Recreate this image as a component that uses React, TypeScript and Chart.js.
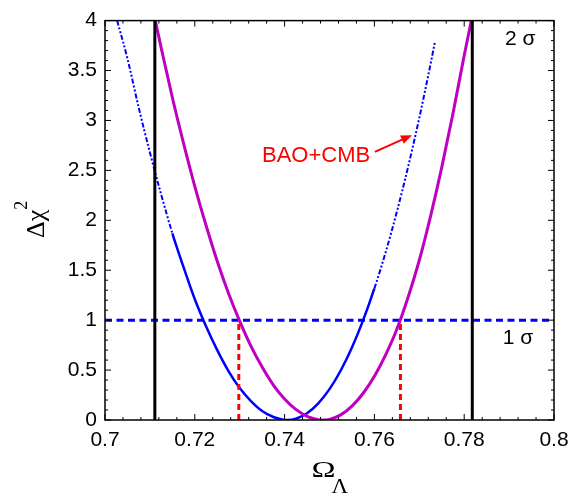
import { useEffect, useRef } from 'react';
import { Chart, registerables } from 'chart.js';

Chart.register(...registerables);

// BAO-only (blue) Δχ² curve
const blueX = [0.7027, 0.705, 0.7075, 0.71, 0.7125, 0.715, 0.7175, 0.72, 0.7225, 0.725, 0.7275, 0.73, 0.7325, 0.735, 0.7375, 0.74, 0.7406, 0.7425, 0.745, 0.7475, 0.75, 0.7525, 0.755, 0.7575, 0.76, 0.7625, 0.765, 0.7675, 0.77, 0.7725, 0.7735];
const blueY = [4.0, 3.62, 3.13, 2.68, 2.26, 1.87, 1.53, 1.21, 0.94, 0.7, 0.49, 0.32, 0.19, 0.09, 0.03, 0.001, 0, 0.013, 0.068, 0.167, 0.309, 0.496, 0.726, 1.0, 1.318, 1.679, 2.085, 2.534, 3.026, 3.563, 3.79];

// BAO+CMB (magenta) Δχ² curve
const magX = [0.7112, 0.7125, 0.715, 0.7175, 0.72, 0.7225, 0.725, 0.7275, 0.73, 0.7325, 0.735, 0.7375, 0.74, 0.7425, 0.745, 0.7475, 0.7486, 0.75, 0.7525, 0.755, 0.7575, 0.76, 0.7625, 0.765, 0.7675, 0.77, 0.7725, 0.775, 0.7775, 0.78, 0.7816];
const magY = [4.0, 3.73, 3.23, 2.77, 2.34, 1.95, 1.59, 1.27, 0.99, 0.74, 0.53, 0.35, 0.21, 0.106, 0.037, 0.0035, 0, 0.0066, 0.051, 0.139, 0.268, 0.439, 0.653, 0.909, 1.23, 1.6, 2.04, 2.53, 3.07, 3.65, 4.0];

const twoSigmaBounds = [0.7111, 0.7818];
const oneSigmaBounds = [0.7298, 0.7658];
const oneSigmaLevel = 1;
const maxLevel = 4;

const xTickLabels = ['0.7', '0.72', '0.74', '0.76', '0.78', '0.8'];
const yTickLabels = ['0', '0.5', '1', '1.5', '2', '2.5', '3', '3.5', '4'];

const X_MIN = 0.7, X_MAX = 0.8, Y_MIN = 0, Y_MAX = 4;

const overlay = {
  id: 'overlay',
  afterDraw(chart: any) {
    const { ctx, chartArea: a } = chart;
    const xs = chart.scales.x, ys = chart.scales.y;
    const line = (x1: number, y1: number, x2: number, y2: number) => {
      ctx.beginPath(); ctx.moveTo(x1, y1); ctx.lineTo(x2, y2); ctx.stroke();
    };
    ctx.save();
    ctx.strokeStyle = '#000';
    ctx.lineWidth = 1.5;
    ctx.strokeRect(a.left, a.top, a.right - a.left, a.bottom - a.top);
    ctx.lineWidth = 1;
    for (let i = 0; i <= 25; i++) {
      const px = xs.getPixelForValue(X_MIN + i * 0.004);
      const len = i % 5 === 0 ? 6 : 3;
      line(px, a.bottom, px, a.bottom - len);
      line(px, a.top, px, a.top + len);
    }
    for (let i = 0; i <= 40; i++) {
      const py = ys.getPixelForValue(i * 0.1);
      const len = i % 5 === 0 ? 6 : 3;
      line(a.left, py, a.left + len, py);
      line(a.right, py, a.right - len, py);
    }

    // sigma labels
    ctx.fillStyle = '#000';
    ctx.font = '21px "Liberation Sans", Arial, sans-serif';
    ctx.textAlign = 'left';
    ctx.textBaseline = 'alphabetic';
    ctx.fillText('2 σ', xs.getPixelForValue(0.7891), ys.getPixelForValue(3.755));
    ctx.fillText('1 σ', xs.getPixelForValue(0.7886), ys.getPixelForValue(0.765));

    // BAO+CMB label and arrow
    ctx.fillStyle = '#ff0000';
    ctx.strokeStyle = '#ff0000';
    ctx.font = '22px "Liberation Sans", Arial, sans-serif';
    ctx.fillText('BAO+CMB', xs.getPixelForValue(0.73497), ys.getPixelForValue(2.588));
    const tx = xs.getPixelForValue(0.7601), ty = ys.getPixelForValue(2.686);
    const hx = xs.getPixelForValue(0.76837), hy = ys.getPixelForValue(2.853);
    const ang = Math.atan2(hy - ty, hx - tx);
    ctx.lineWidth = 2;
    line(tx, ty, hx - 6 * Math.cos(ang), hy - 6 * Math.sin(ang));
    ctx.beginPath();
    ctx.moveTo(hx, hy);
    ctx.lineTo(hx - 11 * Math.cos(ang) + 4.5 * Math.sin(ang), hy - 11 * Math.sin(ang) - 4.5 * Math.cos(ang));
    ctx.lineTo(hx - 11 * Math.cos(ang) - 4.5 * Math.sin(ang), hy - 11 * Math.sin(ang) + 4.5 * Math.cos(ang));
    ctx.closePath();
    ctx.fill();

    // axis titles
    ctx.fillStyle = '#000';
    const cx = (a.left + a.right) / 2;
    ctx.save();
    ctx.translate(cx - 18, 477);
    ctx.scale(1.35, 1);
    ctx.font = '24px "Liberation Serif", "Times New Roman", serif';
    ctx.fillText('Ω', 0, 0);
    ctx.restore();
    ctx.save();
    ctx.translate(cx + 2, 493);
    ctx.scale(1.15, 1);
    ctx.font = '20px "Liberation Serif", "Times New Roman", serif';
    ctx.fillText('Λ', 0, 0);
    ctx.restore();

    ctx.save();
    ctx.translate(44, 238);
    ctx.rotate(-Math.PI / 2);
    ctx.font = '26px "Liberation Serif", "Times New Roman", serif';
    ctx.fillText('Δχ', 0, 0);
    const w = ctx.measureText('Δχ').width;
    ctx.font = '18px "Liberation Serif", "Times New Roman", serif';
    ctx.fillText('2', w, -17);
    ctx.restore();

    ctx.restore();
  },
};

export default function App() {
  const ref = useRef<HTMLCanvasElement | null>(null);
  useEffect(() => {
    if (!ref.current) return;
    const pts = (xa: number[], ya: number[]) => xa.map((x, i) => ({ x, y: ya[i] }));
    const vline = (x: number, top: number) => [{ x, y: 0 }, { x, y: top }];
    const dotted = (c: any) => {
      const lim = c.p0.parsed.x < 0.7406 ? 2.2 : 1.55;
      return c.p0.parsed.y > lim || c.p1.parsed.y > lim;
    };
    const chart = new Chart(ref.current, {
      type: 'scatter',
      data: {
        datasets: [
          { data: vline(twoSigmaBounds[0], maxLevel), showLine: true, borderColor: '#000', borderWidth: 3, pointRadius: 0, order: 0 },
          { data: vline(twoSigmaBounds[1], maxLevel), showLine: true, borderColor: '#000', borderWidth: 3, pointRadius: 0, order: 0 },
          { data: vline(oneSigmaBounds[0], oneSigmaLevel), showLine: true, borderColor: '#ff0000', borderWidth: 3, borderDash: [6, 4], pointRadius: 0, order: 1 },
          { data: vline(oneSigmaBounds[1], oneSigmaLevel), showLine: true, borderColor: '#ff0000', borderWidth: 3, borderDash: [6, 4], pointRadius: 0, order: 1 },
          {
            data: pts(magX, magY), showLine: true, borderColor: '#c000c0', borderWidth: 3, pointRadius: 0,
            cubicInterpolationMode: 'monotone', order: 2,
          },
          {
            data: pts(blueX, blueY), showLine: true, borderColor: '#0000ff', borderWidth: 2.5, pointRadius: 0,
            cubicInterpolationMode: 'monotone', order: 3,
            segment: {
              borderDash: (c: any) => (dotted(c) ? [5, 2, 2, 2, 2, 2] : undefined),
              borderWidth: (c: any) => (dotted(c) ? 2 : 2.5),
            },
          },
          { data: [{ x: X_MIN, y: oneSigmaLevel }, { x: X_MAX, y: oneSigmaLevel }], showLine: true, borderColor: '#0000ff', borderWidth: 3, borderDash: [7, 4.5], pointRadius: 0, order: 4 },
        ] as any,
      },
      options: {
        animation: false,
        responsive: true,
        maintainAspectRatio: false,
        layout: { padding: { top: 12, right: 28, left: 0, bottom: 0 } },
        plugins: { legend: { display: false }, tooltip: { enabled: false } },
        scales: {
          x: {
            type: 'linear', position: 'bottom', min: X_MIN, max: X_MAX,
            grid: { display: false, drawTicks: false, tickLength: 0 },
            border: { display: false },
            ticks: {
              stepSize: 0.02, autoSkip: false, maxRotation: 0, padding: 8, color: '#000',
              font: { family: '"Liberation Sans", Arial, sans-serif', size: 21 },
              callback: (v: any) => xTickLabels.find((l) => Math.abs(parseFloat(l) - Number(v)) < 1e-6) ?? '',
            },
            afterFit: (s: any) => { s.height = 77; },
          },
          y: {
            type: 'linear', position: 'left', min: Y_MIN, max: Y_MAX,
            grid: { display: false, drawTicks: false, tickLength: 0 },
            border: { display: false },
            ticks: {
              stepSize: 0.5, autoSkip: false, padding: 8, color: '#000',
              font: { family: '"Liberation Sans", Arial, sans-serif', size: 21 },
              callback: (v: any) => yTickLabels.find((l) => Math.abs(parseFloat(l) - Number(v)) < 1e-6) ?? '',
            },
            afterFit: (s: any) => { s.width = 105; },
          },
        },
      } as any,
      plugins: [overlay],
    });
    return () => chart.destroy();
  }, []);
  return (
    <div style={{ position: 'absolute', left: 0, top: 0, width: 582, height: 497, background: '#fff' }}>
      <canvas ref={ref} />
    </div>
  );
}
